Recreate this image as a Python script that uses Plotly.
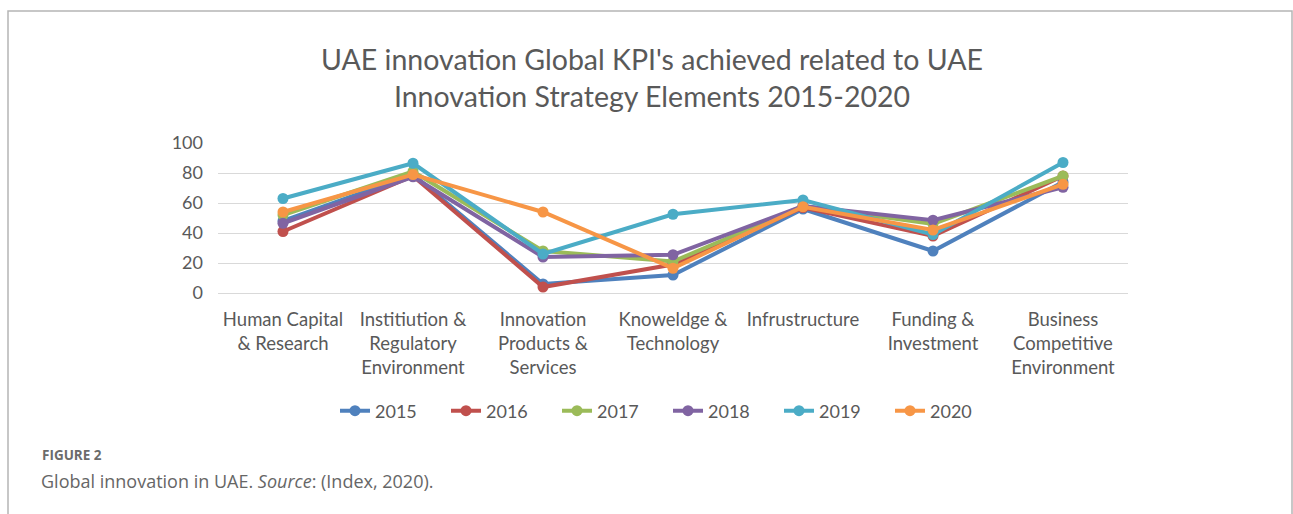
import plotly.graph_objects as go

categories = ["Human Capital & Research", "Institiution & Regulatory Environment",
              "Innovation Products & Services", "Knoweldge & Technology",
              "Infrustructure", "Funding & Investment", "Business Competitive Environment"]
tick_labels = ["Human Capital<br>& Research", "Institiution &<br>Regulatory<br>Environment",
               "Innovation<br>Products &<br>Services", "Knoweldge &<br>Technology",
               "Infrustructure", "Funding &<br>Investment", "Business<br>Competitive<br>Environment"]
years = ["2015", "2016", "2017", "2018", "2019", "2020"]
v2015 = [48, 79, 6, 12, 56, 28, 74]
v2016 = [41, 78, 4, 19, 57, 38, 78]
v2017 = [52, 81, 28, 21, 58, 46, 78]
v2018 = [46.5, 77.5, 24, 25.5, 58, 48.5, 70.5]
v2019 = [63, 86.5, 26, 52.5, 62, 39, 87]
v2020 = [54, 79, 54, 16.5, 57.5, 42, 72.5]
series = [v2015, v2016, v2017, v2018, v2019, v2020]
colors = ["#4F81BD", "#C0504D", "#9BBB59", "#8064A2", "#4BACC6", "#F79646"]

W, H = 1293, 514
L, R, T, B = 218, 1128, 143, 293
pw, ph = R - L, B - T

def px(x):
    return (x - L) / pw

def py(y):
    return (B - y) / ph

fig = go.Figure()
for name, vals, c in zip(years, series, colors):
    fig.add_trace(go.Scatter(x=categories, y=vals, name=name, mode="lines+markers",
                             line=dict(color=c, width=4),
                             marker=dict(color=c, size=11)))

chart_font = "Lato"
fig.update_layout(
    width=W, height=H,
    margin=dict(l=L, r=W - R, t=T, b=H - B, autoexpand=False),
    paper_bgcolor="white", plot_bgcolor="white",
    font=dict(family=chart_font, color="#595959", size=18),
    title=dict(text="UAE innovation Global KPI's achieved related to UAE<br>Innovation Strategy Elements 2015-2020",
               x=652 / W, xref="container", xanchor="center", y=1 - 70 / H, yanchor="middle",
               font=dict(family=chart_font, size=28.5, color="#595959")),
    showlegend=True,
    legend=dict(orientation="h", x=668 / W, xref="container", xanchor="center", y=py(411), yanchor="middle",
                font=dict(family=chart_font, size=18, color="#595959"),
                itemwidth=30, entrywidth=66, entrywidthmode="pixels",
                tracegroupgap=0, bgcolor="rgba(0,0,0,0)"),
    xaxis=dict(tickmode="array", tickvals=categories, ticktext=tick_labels,
               showgrid=False, showline=True, linecolor="#d9d9d9", linewidth=1,
               ticks="", ticklabelstandoff=10, range=[-0.5, 6.5],
               tickfont=dict(family=chart_font, size=18.5, color="#595959")),
    yaxis=dict(range=[0, 100], tickvals=[0, 20, 40, 60, 80, 100],
               showgrid=True, gridcolor="#d9d9d9", gridwidth=1, zeroline=False,
               showline=False, ticks="", ticklabelstandoff=14,
               tickfont=dict(family=chart_font, size=18, color="#595959")),
)

fig.add_shape(type="rect", xref="paper", yref="paper",
              x0=px(8), x1=px(1292), y0=py(530), y1=py(11),
              line=dict(color="#b5b5b5", width=1.5), fillcolor="rgba(0,0,0,0)", layer="below")

fig.add_annotation(xref="paper", yref="paper", x=px(40), y=py(455), xanchor="left", yanchor="middle",
                   text="<b>FIGURE 2</b>", showarrow=False,
                   font=dict(family="Open Sans", size=13.5, color="#6b6b6b"))
fig.add_annotation(xref="paper", yref="paper", x=px(39), y=py(481), xanchor="left", yanchor="middle",
                   text="Global innovation in UAE. <i>Source</i>: (Index, 2020).", showarrow=False,
                   font=dict(family="Open Sans", size=18, color="#666666"))

fig.write_html("out.html", config={"displayModeBar": False},
               post_script="document.body.style.margin='0';document.body.style.overflow='hidden';")
